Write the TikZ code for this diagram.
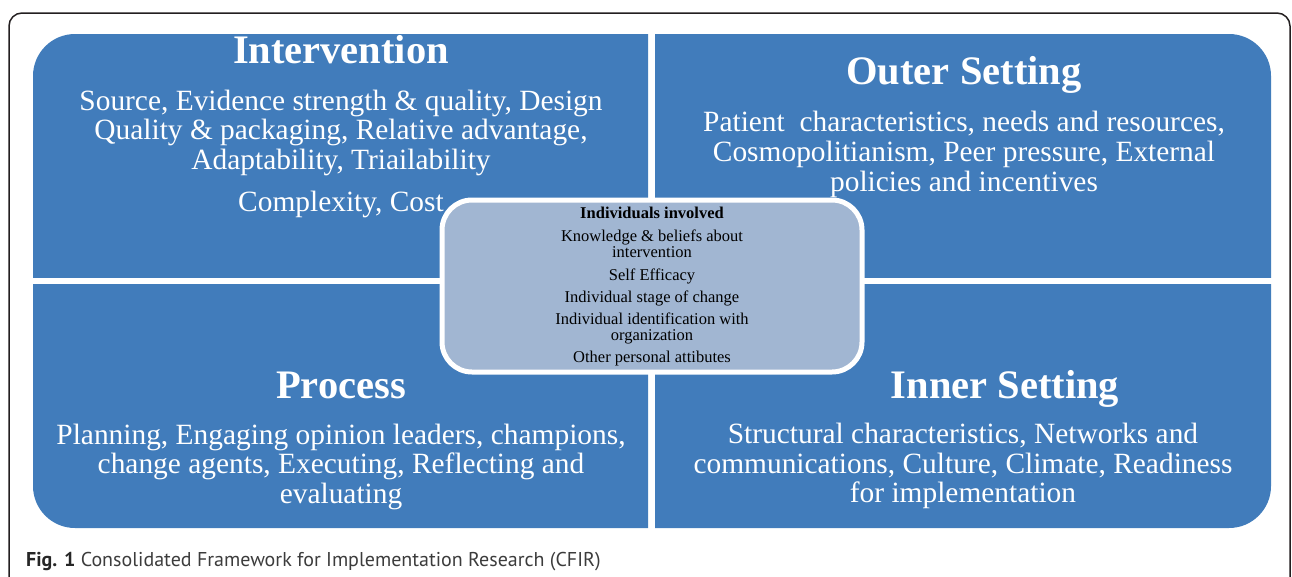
\documentclass[tikz,border=0pt]{standalone}
\usepackage{fontspec}
\setmainfont{Liberation Serif}
\newfontfamily\capfont{PT Sans}
\definecolor{qblue}{RGB}{65,124,187}
\definecolor{cblue}{RGB}{161,182,210}
\definecolor{framec}{RGB}{35,31,32}
\definecolor{capc}{RGB}{60,60,60}
\begin{document}
\begin{tikzpicture}[x=1pt,y=-1pt,
  title/.style={text=white, font=\fontsize{40.5}{40.5}\selectfont\bfseries, anchor=base, inner sep=0pt},
  body/.style={text=white, font=\fontsize{29.4}{30}\selectfont, anchor=base, inner sep=0pt},
  small/.style={text=black, font=\fontsize{16.5}{17}\selectfont, anchor=base, inner sep=0pt},
  quad/.style={fill=qblue, rounded corners=42pt},
  centerbox/.style={draw=white, line width=5pt, fill=cblue, rounded corners=30pt,
    minimum width=420pt, minimum height=172pt, inner sep=0pt},
]
\useasboundingbox (0,0) rectangle (1292,576);
% outer frame (open at the bottom)
\begin{scope}
  \clip (0,0) rectangle (1292,576);
  \draw[framec, line width=1.5pt, rounded corners=13pt] (9,13) rectangle (1290,640);
\end{scope}
% quadrants
\begin{scope}
  \clip (33,34) rectangle (648,277);
  \fill[quad] (33,34) rectangle (720,340);
\end{scope}
\begin{scope}
  \clip (655,34) rectangle (1271,277);
  \fill[quad] (580,34) rectangle (1271,340);
\end{scope}
\begin{scope}
  \clip (33,284) rectangle (648,528);
  \fill[quad] (33,220) rectangle (720,528);
\end{scope}
\begin{scope}
  \clip (655,284) rectangle (1271,528);
  \fill[quad] (580,220) rectangle (1271,528);
\end{scope}
% Intervention
\node[title] (intT) at (341,63) {Intervention};
\node[body] (int1) at (341,110) {Source, Evidence strength \& quality, Design};
\node[body] (int2) at (341,139.5) {Quality \& packaging, Relative advantage,};
\node[body] (int3) at (341,169) {Adaptability, Triailability};
\node[body] (int4) at (341,211) {Complexity, Cost};
% Outer Setting
\node[title] (outT) at (964,84) {Outer Setting};
\node[body] (out1) at (964,131) {Patient\ \ characteristics, needs and resources,};
\node[body] (out2) at (964,161) {Cosmopolitianism, Peer pressure, External};
\node[body] (out3) at (964,191) {policies and incentives};
% Process
\node[title] (proT) at (341,398) {Process};
\node[body] (pro1) at (341,444) {Planning, Engaging opinion leaders, champions,};
\node[body] (pro2) at (341,473) {change agents, Executing, Reflecting and};
\node[body] (pro3) at (341,503) {evaluating};
% Inner Setting
\node[title] (innT) at (1005,398) {Inner Setting};
\node[body] (inn1) at (963,443) {Structural characteristics, Networks and};
\node[body] (inn2) at (963,473) {communications, Culture, Climate, Readiness};
\node[body] (inn3) at (963,502) {for implementation};
% Individuals involved
\node[centerbox] (ind) at (652,286) {};
\node[small, font=\fontsize{16.5}{17}\selectfont\bfseries] (ind0) at (652,218) {Individuals involved};
\node[small] (ind1) at (652,241) {Knowledge \& beliefs about};
\node[small] (ind2) at (652,257) {intervention};
\node[small] (ind3) at (652,280) {Self Efficacy};
\node[small] (ind4) at (652,302) {Individual stage of change};
\node[small] (ind5) at (652,324) {Individual identification with};
\node[small] (ind6) at (652,340) {organization};
\node[small] (ind7) at (652,362) {Other personal attibutes};
% caption
\node[anchor=base west, inner sep=0pt, text=capc, font=\capfont\fontsize{20}{22}\selectfont] (cap) at (26,566.5)
  {{\bfseries\color{black!85}Fig. 1} Consolidated Framework for Implementation Research (CFIR)};
\end{tikzpicture}
\end{document}
